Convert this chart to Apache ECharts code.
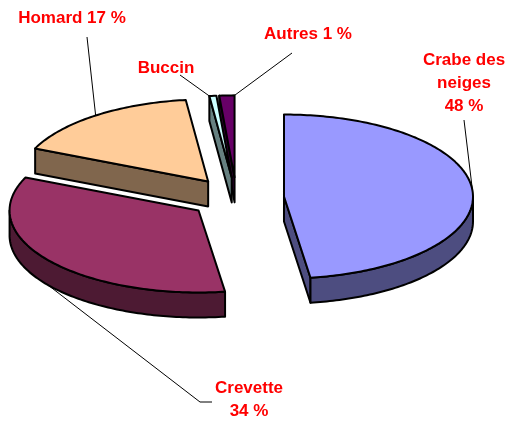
<!DOCTYPE html>
<html>
<head>
<meta charset="utf-8">
<script src="https://cdn.jsdelivr.net/npm/echarts@6/dist/echarts.min.js"></script>
<style>
html, body { margin: 0; padding: 0; background: #fff; }
#main { width: 509px; height: 421px; }
</style>
</head>
<body>
<div id="main"></div>
<script>
// data
var categories = ['Crabe des neiges', 'Crevette', 'Homard', 'Buccin', 'Autres'];
var values = [48, 34, 16.6, 0.6, 1.3];
var showPercent = [true, true, true, false, true];

// display / layout
var labelNames = ['Crabe des\nneiges', 'Crevette', 'Homard', 'Buccin', 'Autres'];
var labelSep = ['\n', '\n', ' ', ' ', ' '];
var topColors = ['#9999FF', '#993366', '#FFCC99', '#CCFFFF', '#660066'];
var sideColors = ['#4D4D80', '#4D1A33', '#80664D', '#668080', '#330033'];
var labelPos = [[464, 83], [249, 400], [72, 18], [166, 68], [308, 34]];
var leaderEnd = [[[464, 120]], [[200, 402], [212, 402]], [[87, 37]], [[180, 75]], [[292, 53]]];
// where along the slice the leader touches the rim (0 = start edge, 1 = end edge)
var leaderFrac = [0.5, 0.5, 0.5, 0, 1];

var CX = 236.5, CY = 198, RX = 189, RY = 82, H = 25, EXPLODE = 47.6;

var total = values.reduce(function (a, b) { return a + b; }, 0);
var starts = [], acc = 0;
values.forEach(function (v) { starts.push(acc / total * 360); acc += v; });

function pt(c, deg, dy) {
  var r = deg * Math.PI / 180;
  return [c[0] + RX * Math.sin(r), c[1] - RY * Math.cos(r) + (dy || 0)];
}
function arc(c, a0, a1, dy) {
  var pts = [], n = Math.max(2, Math.ceil(a1 - a0));
  for (var i = 0; i <= n; i++) pts.push(pt(c, a0 + (a1 - a0) * i / n, dy));
  return pts;
}

function renderSlice(params, api) {
  var i = params.dataIndex;
  var v = api.value(0);
  var a0 = starts[i], a1 = a0 + v / total * 360;
  var mid = (a0 + a1) / 2, mr = mid * Math.PI / 180;
  var c = [CX + EXPLODE * Math.sin(mr), CY - EXPLODE * (RY / RX) * Math.cos(mr)];
  var depth = Math.round((200 - Math.abs(mid - 180)) * 10);
  var line = { stroke: '#000', lineWidth: 2, lineJoin: 'round' };
  var kids = [];

  // radial faces
  if (Math.sin(a0 * Math.PI / 180) < -1e-6) {
    kids.push({ type: 'polygon', z2: depth,
      shape: { points: [c, pt(c, a0, 0), pt(c, a0, H), [c[0], c[1] + H]] },
      style: Object.assign({ fill: sideColors[i] }, line) });
  }
  if (Math.sin(a1 * Math.PI / 180) > 1e-6) {
    kids.push({ type: 'polygon', z2: depth,
      shape: { points: [c, pt(c, a1, 0), pt(c, a1, H), [c[0], c[1] + H]] },
      style: Object.assign({ fill: sideColors[i] }, line) });
  }
  // outer wall (front half only)
  var s = Math.max(a0, 90), e = Math.min(a1, 270);
  if (s < e) {
    kids.push({ type: 'polygon', z2: depth + 1,
      shape: { points: arc(c, s, e, 0).concat(arc(c, s, e, H).reverse()) },
      style: Object.assign({ fill: sideColors[i] }, line) });
  }
  // top face
  kids.push({ type: 'polygon', z2: depth + 2,
    shape: { points: [c].concat(arc(c, a0, a1, 0)) },
    style: Object.assign({ fill: topColors[i] }, line) });

  // leader line and label
  var la = a0 + (a1 - a0) * leaderFrac[i];
  var front = la > 90 && la < 270;
  kids.push({ type: 'polyline', z2: 9000,
    shape: { points: [pt(c, la, front ? H : 0)].concat(leaderEnd[i]) },
    style: { stroke: '#000', lineWidth: 1, fill: null } });
  var txt = labelNames[i] + (showPercent[i] ? labelSep[i] + Math.round(v / total * 100) + ' %' : '');
  kids.push({ type: 'text', z2: 9001,
    style: { text: txt, x: labelPos[i][0], y: labelPos[i][1], fill: '#FF0000',
      font: 'bold 17px Arial, "Liberation Sans", sans-serif',
      align: 'center', verticalAlign: 'middle', lineHeight: 23 } });

  return { type: 'group', children: kids };
}

var chart = echarts.init(document.getElementById('main'));
chart.setOption({
  animation: false,
  series: [{
    type: 'custom',
    coordinateSystem: 'none',
    renderItem: renderSlice,
    data: values.map(function (v, i) { return { name: categories[i], value: [v] }; })
  }]
});
</script>
</body>
</html>
